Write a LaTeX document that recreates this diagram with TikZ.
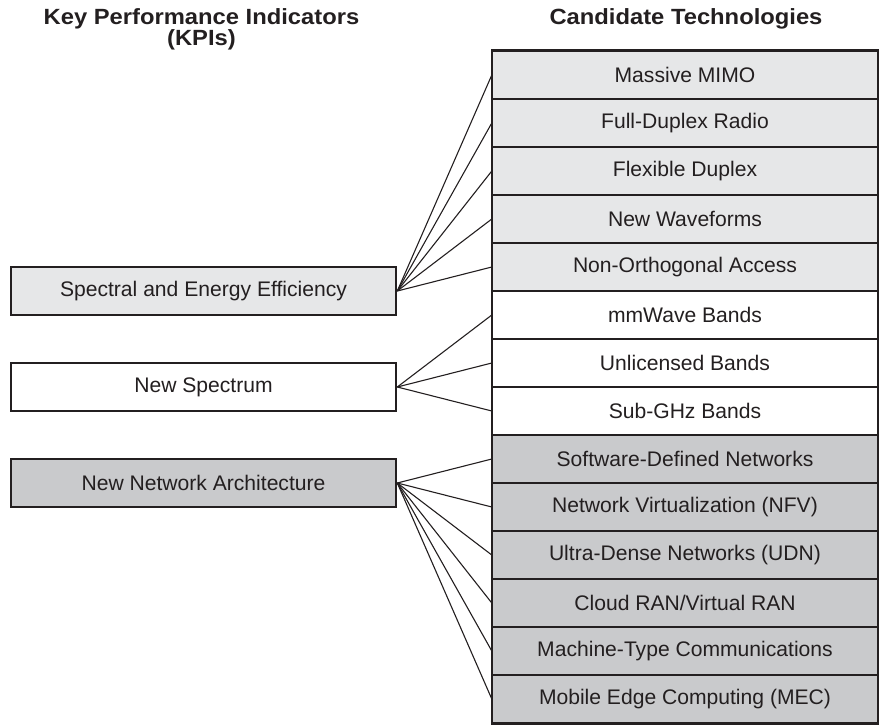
\documentclass[tikz,border=0pt]{standalone}
\usepackage{fontspec}
\setmainfont{Liberation Sans}
\newfontfamily\headfont{Liberation Sans}[FakeStretch=1.08]
\definecolor{lightg}{HTML}{E6E7E8}
\definecolor{darkg}{HTML}{C9CACC}
\definecolor{ink}{HTML}{231F20}
\begin{document}
\begin{tikzpicture}[x=1pt,y=-1pt,
  every node/.style={text=ink},
  head/.style={font=\headfont\bfseries\fontsize{22}{21}\selectfont, inner sep=0pt, anchor=base},
  techrow/.style={draw=ink, line width=1.4pt, minimum width=385pt, minimum height=48pt, inner sep=0pt, font=\fontsize{21.1}{24}\selectfont},
  kpibox/.style={draw=ink, line width=2.6pt, minimum width=385pt, minimum height=48pt, inner sep=0pt, font=\fontsize{21.1}{24}\selectfont},
  conn/.style={draw=ink, line width=1.1pt}]
\useasboundingbox (0,0) rectangle (879,726);
% headers
\node[head] (h1a) at (201.5,24) {Key Performance Indicators};
\node[head] (h1b) at (201.5,45.5) {(KPIs)};
\node[head] (h2)  at (686,24) {Candidate Technologies};
% technology rows
\node[techrow, fill=lightg] (t1)  at (685,75)  {Massive MIMO};
\node[techrow, fill=lightg] (t2)  at (685,123) {Full-Duplex Radio};
\node[techrow, fill=lightg] (t3)  at (685,171) {Flexible Duplex};
\node[techrow, fill=lightg] (t4)  at (685,219) {New Waveforms};
\node[techrow, fill=lightg] (t5)  at (685,267) {Non-Orthogonal Access};
\node[techrow, fill=white]  (t6)  at (685,315) {mmWave Bands};
\node[techrow, fill=white]  (t7)  at (685,363) {Unlicensed Bands};
\node[techrow, fill=white]  (t8)  at (685,411) {Sub-GHz Bands};
\node[techrow, fill=darkg]  (t9)  at (685,459) {Software-Defined Networks};
\node[techrow, fill=darkg]  (t10) at (685,507) {Network Virtualization (NFV)};
\node[techrow, fill=darkg]  (t11) at (685,555) {Ultra-Dense Networks (UDN)};
\node[techrow, fill=darkg]  (t12) at (685,603) {Cloud RAN/Virtual RAN};
\node[techrow, fill=darkg]  (t13) at (685,651) {Machine-Type Communications};
\node[techrow, fill=darkg]  (t14) at (685,699) {Mobile Edge Computing (MEC)};
\draw[draw=ink, line width=2.6pt] (t1.north west) rectangle (t14.south east);
% KPI boxes
\node[kpibox, fill=lightg] (k1) at (203.5,291) {Spectral and Energy Efficiency};
\node[kpibox, fill=white]  (k2) at (203.5,387) {New Spectrum};
\node[kpibox, fill=darkg]  (k3) at (203.5,483) {New Network Architecture};
% connectors
\foreach \t in {1,...,5} \draw[conn] (k1.east) -- (t\t.west);
\foreach \t in {6,7,8} \draw[conn] (k2.east) -- (t\t.west);
\foreach \t in {9,...,14} \draw[conn] (k3.east) -- (t\t.west);
\end{tikzpicture}
\end{document}
